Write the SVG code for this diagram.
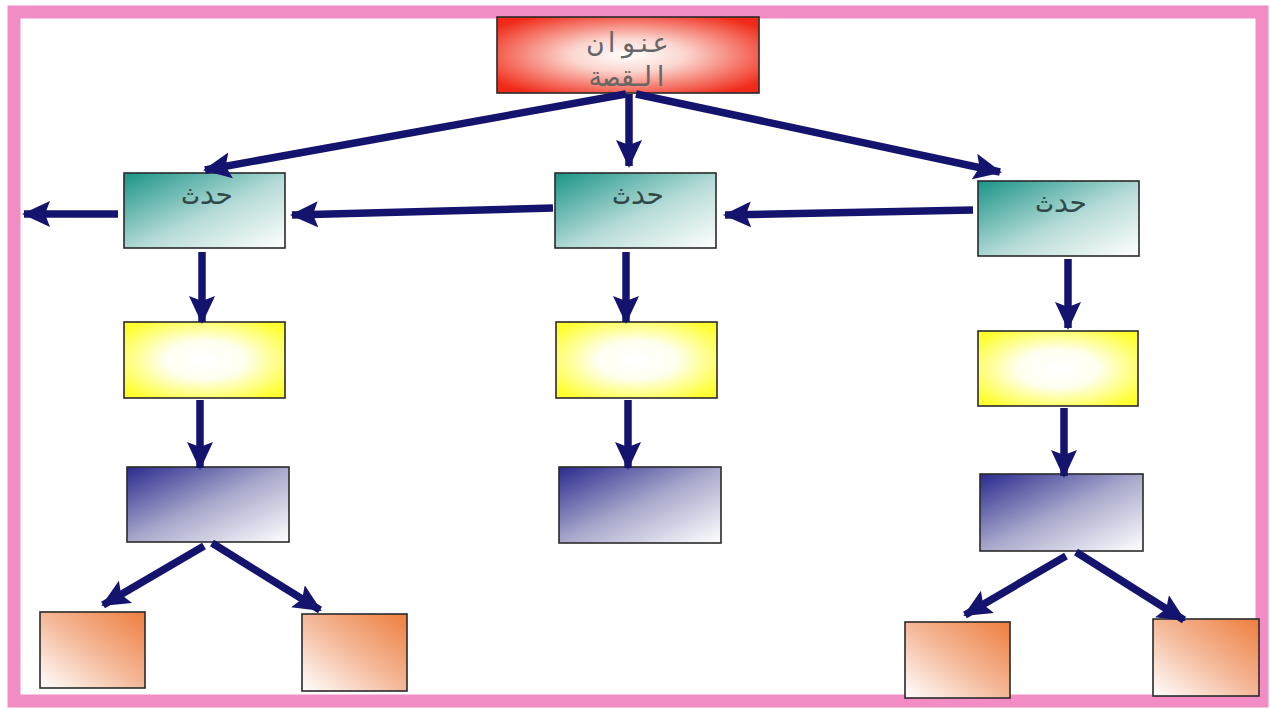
<svg xmlns="http://www.w3.org/2000/svg" width="1270" height="709" viewBox="0 0 1270 709">
<defs>
<radialGradient id="gRed" cx="0.5" cy="0.5" r="0.62">
<stop offset="0" stop-color="#ffffff"/>
<stop offset="0.35" stop-color="#fbd6cf"/>
<stop offset="1" stop-color="#f02a18"/>
</radialGradient>
<radialGradient id="gYel" cx="0.5" cy="0.5" r="0.62">
<stop offset="0" stop-color="#ffffff"/>
<stop offset="0.4" stop-color="#fffff0"/>
<stop offset="1" stop-color="#ffff30"/>
</radialGradient>
<linearGradient id="gTeal" x1="0" y1="0" x2="1" y2="1">
<stop offset="0" stop-color="#1a9488"/>
<stop offset="0.55" stop-color="#b8dcd8"/>
<stop offset="1" stop-color="#ffffff"/>
</linearGradient>
<linearGradient id="gBlue" x1="0" y1="0" x2="1" y2="1">
<stop offset="0" stop-color="#2a2a8e"/>
<stop offset="0.5" stop-color="#a8a8cc"/>
<stop offset="1" stop-color="#ffffff"/>
</linearGradient>
<linearGradient id="gOr" x1="1" y1="0" x2="0" y2="1">
<stop offset="0" stop-color="#ee7e3e"/>
<stop offset="0.5" stop-color="#f4b898"/>
<stop offset="1" stop-color="#ffffff"/>
</linearGradient>
<marker id="ah" markerUnits="userSpaceOnUse" markerWidth="32" markerHeight="32" viewBox="0 0 32 32" refX="26" refY="16" orient="auto">
<path d="M0,3 L28,16 L0,29 L5,16 Z" fill="#14146e"/>
</marker>
</defs>
<style>
.box{stroke:#2a2a2a;stroke-width:1.6}
.lbl{font-family:"DejaVu Sans Mono","DejaVu Sans",monospace;font-size:28px;fill:#2f4a4a;text-anchor:middle}
.ttl{font-family:"DejaVu Sans Mono","DejaVu Sans",monospace;font-size:27px;fill:#666666;text-anchor:middle}
.con line{stroke:#14146e;stroke-width:7.5;marker-end:url(#ah)}
</style>
<rect x="0" y="0" width="1270" height="709" fill="#ffffff"/>
<rect x="14" y="12" width="1248" height="689" fill="#ffffff" stroke="#f28cc4" stroke-width="13"/>

<g id="title"><rect class="box" x="497" y="17" width="262" height="76" fill="url(#gRed)"/>
<text class="ttl" x="628" y="52">عنوان</text><text class="ttl" x="628" y="86">القصة</text></g>

<g id="event-left"><rect class="box" x="124" y="173" width="161" height="75" fill="url(#gTeal)"/><text class="lbl" x="207" y="204">حدث</text></g>
<g id="event-mid"><rect class="box" x="555" y="173" width="161" height="75" fill="url(#gTeal)"/><text class="lbl" x="638" y="204">حدث</text></g>
<g id="event-right"><rect class="box" x="978" y="181" width="161" height="75" fill="url(#gTeal)"/><text class="lbl" x="1061" y="212">حدث</text></g>

<g id="yellow-left"><rect class="box" x="124" y="322" width="161" height="76" fill="url(#gYel)"/></g>
<g id="yellow-mid"><rect class="box" x="556" y="322" width="161" height="76" fill="url(#gYel)"/></g>
<g id="yellow-right"><rect class="box" x="978" y="331" width="160" height="75" fill="url(#gYel)"/></g>

<g id="blue-left"><rect class="box" x="127" y="467" width="162" height="75" fill="url(#gBlue)"/></g>
<g id="blue-mid"><rect class="box" x="559" y="467" width="162" height="76" fill="url(#gBlue)"/></g>
<g id="blue-right"><rect class="box" x="980" y="474" width="163" height="77" fill="url(#gBlue)"/></g>

<g id="orange-1"><rect class="box" x="40" y="612" width="105" height="76" fill="url(#gOr)"/></g>
<g id="orange-2"><rect class="box" x="302" y="614" width="105" height="77" fill="url(#gOr)"/></g>
<g id="orange-3"><rect class="box" x="905" y="622" width="105" height="76" fill="url(#gOr)"/></g>
<g id="orange-4"><rect class="box" x="1153" y="619" width="106" height="77" fill="url(#gOr)"/></g>

<g id="connectors" class="con">
<line x1="626" y1="94" x2="205" y2="170"/>
<line x1="629" y1="94" x2="629" y2="166"/>
<line x1="636" y1="94" x2="1000" y2="172"/>
<line x1="553" y1="208" x2="292" y2="215"/>
<line x1="973" y1="210" x2="725" y2="215"/>
<line x1="118" y1="214" x2="24" y2="214"/>
<line x1="202" y1="252" x2="202" y2="322"/>
<line x1="626" y1="252" x2="626" y2="322"/>
<line x1="1068" y1="259" x2="1068" y2="328"/>
<line x1="200" y1="400" x2="200" y2="468"/>
<line x1="628" y1="400" x2="628" y2="468"/>
<line x1="1064" y1="408" x2="1064" y2="476"/>
<line x1="204" y1="546" x2="103" y2="605"/>
<line x1="212" y1="543" x2="320" y2="610"/>
<line x1="1066" y1="556" x2="965" y2="615"/>
<line x1="1076" y1="552" x2="1184" y2="620"/>
</g>
</svg>
